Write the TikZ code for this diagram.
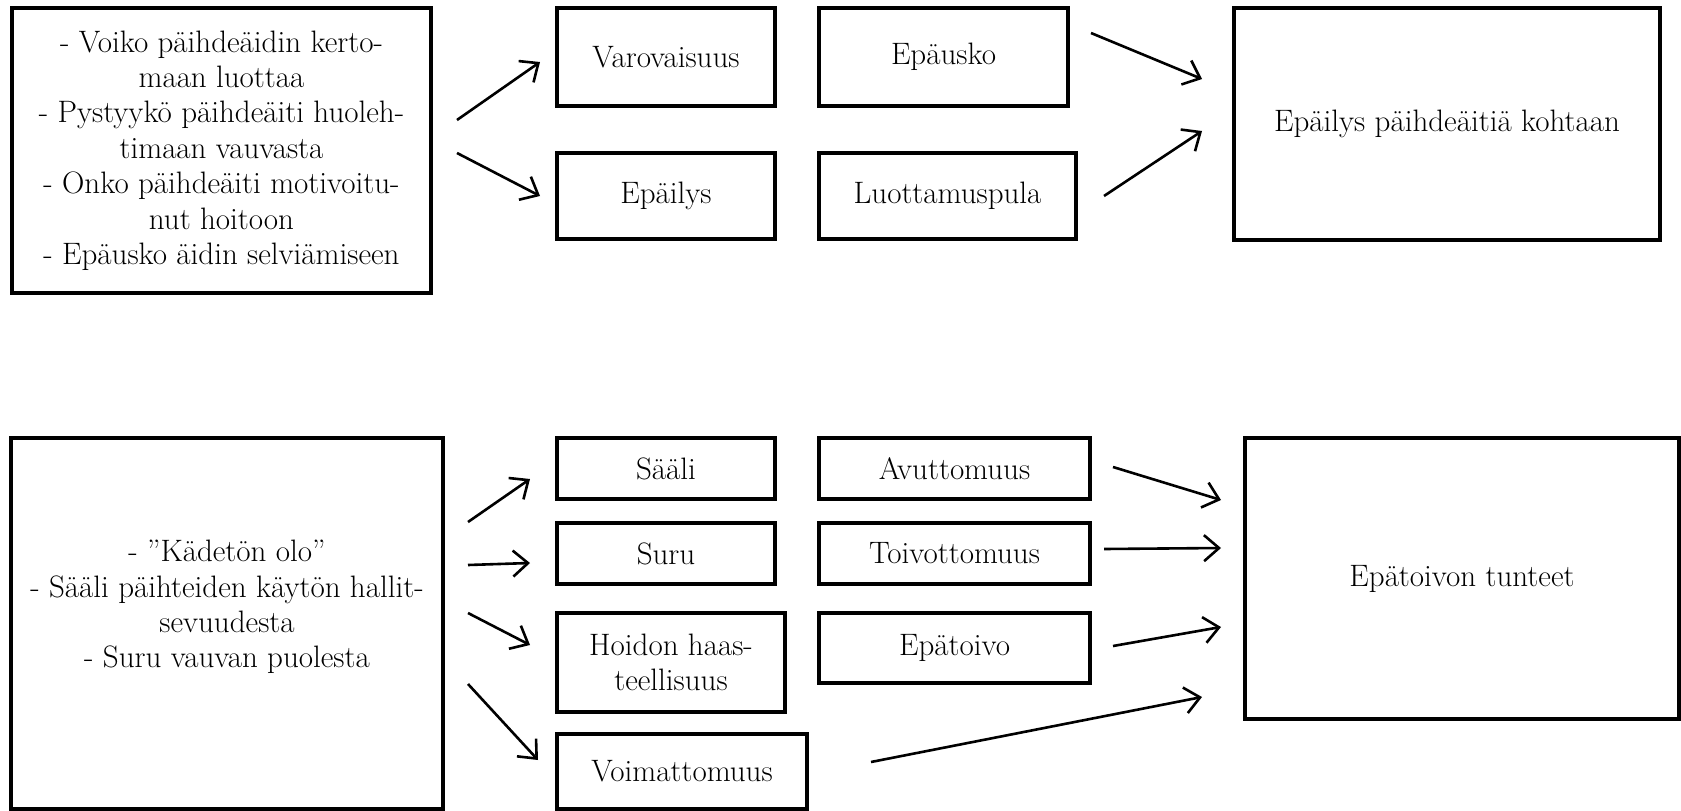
\documentclass[tikz,border=0pt]{standalone}
\usetikzlibrary{arrows.meta}
\begin{document}
\begin{tikzpicture}[x=1pt,y=-1pt,
  box/.style={draw=black,line width=4.8pt,fill=white,inner sep=0pt,align=center,
    font=\fontsize{31}{35.4}\selectfont},
  txt/.style={inner sep=0pt,align=center,font=\fontsize{31}{35.4}\selectfont},
  arr/.style={line width=2.6pt,-{Straight Barb[length=15pt,width=26pt]}}]
\useasboundingbox (0,0) rectangle (1681,811);

% upper row
\node[box,minimum width=419pt,minimum height=285pt] (src1) at (221.5,150.5)
  {- Voiko päihdeäidin kerto-\\maan luottaa\\- Pystyykö päihdeäiti huoleh-\\timaan vauvasta\\- Onko päihdeäiti motivoitu-\\nut hoitoon\\- Epäusko äidin selviämiseen};
\node[box,minimum width=218pt,minimum height=98pt] (varo) at (666,57) {Varovaisuus};
\node[box,minimum width=249pt,minimum height=98pt] (epausko) at (943.5,57) {Epäusko};
\node[box,minimum width=218pt,minimum height=86pt] (epailys) at (666,196) {Epäilys};
\node[box,minimum width=257pt,minimum height=86pt] (luott) at (947.5,196) {Luottamuspula};
\node[box,minimum width=426pt,minimum height=232pt] (res1) at (1447,124) {Epäilys päihdeäitiä kohtaan};

% lower row
\node[box,minimum width=432pt,minimum height=371pt] (src2) at (227,623.5) {};
\node[txt] (src2txt) at (227,607)
  {- ”Kädetön olo”\\- Sääli päihteiden käytön hallit-\\sevuudesta\\- Suru vauvan puolesta};
\node[box,minimum width=218pt,minimum height=61pt] (saali) at (666,468.5) {Sääli};
\node[box,minimum width=218pt,minimum height=61pt] (suru) at (666,553.5) {Suru};
\node[box,minimum width=228pt,minimum height=99pt] (hoidon) at (671,662.5) {Hoidon haas-\\teellisuus};
\node[box,minimum width=250pt,minimum height=75pt] (voim) at (682,771.5) {Voimattomuus};
\node[box,minimum width=271pt,minimum height=61pt] (avut) at (954.5,468.5) {Avuttomuus};
\node[box,minimum width=271pt,minimum height=61pt] (toiv) at (954.5,553.5) {Toivottomuus};
\node[box,minimum width=271pt,minimum height=70pt] (epatoivo) at (954.5,648) {Epätoivo};
\node[box,minimum width=434pt,minimum height=281pt] (res2) at (1462,578.5) {Epätoivon tunteet};

% arrow end points, upper row
\coordinate (u1s) at (457,120);  \coordinate (u1e) at (540,62);
\coordinate (u2s) at (457,153);  \coordinate (u2e) at (540,196);
\coordinate (u3s) at (1091,33);  \coordinate (u3e) at (1202,79);
\coordinate (u4s) at (1104,196); \coordinate (u4e) at (1202,131);
% arrow end points, lower row
\coordinate (l1s) at (468,522);  \coordinate (l1e) at (530,479);
\coordinate (l2s) at (468,565);  \coordinate (l2e) at (530,563);
\coordinate (l3s) at (468,613);  \coordinate (l3e) at (530,645);
\coordinate (l4s) at (468,684);  \coordinate (l4e) at (538,760);
\coordinate (r1s) at (1113,467); \coordinate (r1e) at (1221,500);
\coordinate (r2s) at (1104,549); \coordinate (r2e) at (1221,548);
\coordinate (r3s) at (1113,646); \coordinate (r3e) at (1221,627);
\coordinate (r4s) at (871,762);  \coordinate (r4e) at (1202,697);

\foreach \s/\e in {u1s/u1e,u2s/u2e,u3s/u3e,u4s/u4e,
                   l1s/l1e,l2s/l2e,l3s/l3e,l4s/l4e,
                   r1s/r1e,r2s/r2e,r3s/r3e,r4s/r4e}
  \draw[arr] (\s) -- (\e);
\end{tikzpicture}
\end{document}
